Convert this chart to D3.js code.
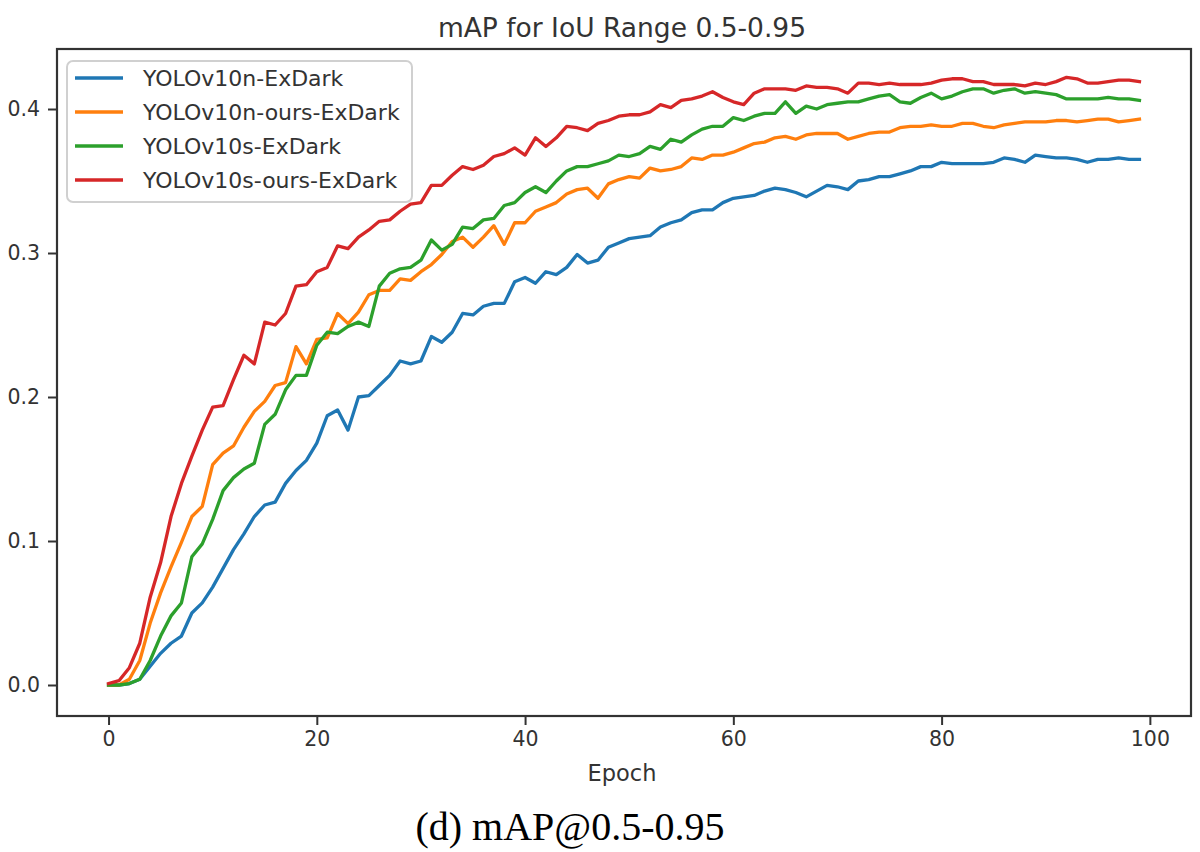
<!DOCTYPE html>
<html>
<head>
<meta charset="utf-8">
<script src="https://cdn.jsdelivr.net/npm/d3@7"></script>
<style>
  html, body { margin: 0; padding: 0; background: #fff; }
  svg { display: block; }
</style>
</head>
<body>
<svg id="chart" width="1200" height="852"></svg>
<script>
const title = "mAP for IoU Range 0.5-0.95";
const xLabel = "Epoch";
const caption = "(d) mAP@0.5-0.95";
const seriesNames = ["YOLOv10n-ExDark", "YOLOv10n-ours-ExDark", "YOLOv10s-ExDark", "YOLOv10s-ours-ExDark"];
const seriesColors = ["#1f77b4", "#ff7f0e", "#2ca02c", "#d62728"];
const xTicks = [0, 20, 40, 60, 80, 100];
const yTicks = [0.0, 0.1, 0.2, 0.3, 0.4];

const yolov10n = [
  0.000, 0.000, 0.001, 0.004, 0.013, 0.022, 0.029, 0.034, 0.050, 0.057,
  0.068, 0.081, 0.094, 0.105, 0.117, 0.125, 0.127, 0.140, 0.149, 0.156,
  0.168, 0.187, 0.191, 0.177, 0.200, 0.201, 0.208, 0.215, 0.225, 0.223,
  0.225, 0.242, 0.238, 0.245, 0.258, 0.257, 0.263, 0.265, 0.265, 0.280,
  0.283, 0.279, 0.287, 0.285, 0.290, 0.299, 0.293, 0.295, 0.304, 0.307,
  0.310, 0.311, 0.312, 0.318, 0.321, 0.323, 0.328, 0.330, 0.330, 0.335,
  0.338, 0.339, 0.340, 0.343, 0.345, 0.344, 0.342, 0.339, 0.343, 0.347,
  0.346, 0.344, 0.350, 0.351, 0.353, 0.353, 0.355, 0.357, 0.360, 0.360,
  0.363, 0.362, 0.362, 0.362, 0.362, 0.363, 0.366, 0.365, 0.363, 0.368,
  0.367, 0.366, 0.366, 0.365, 0.363, 0.365, 0.365, 0.366, 0.365, 0.365
];
const yolov10nOurs = [
  0.000, 0.000, 0.004, 0.017, 0.043, 0.064, 0.082, 0.099, 0.117, 0.124,
  0.153, 0.161, 0.166, 0.179, 0.190, 0.197, 0.208, 0.210, 0.235, 0.223,
  0.240, 0.241, 0.258, 0.251, 0.259, 0.271, 0.274, 0.274, 0.282, 0.281,
  0.287, 0.292, 0.299, 0.308, 0.311, 0.304, 0.311, 0.319, 0.306, 0.321,
  0.321, 0.329, 0.332, 0.335, 0.341, 0.344, 0.345, 0.338, 0.348, 0.351,
  0.353, 0.352, 0.359, 0.357, 0.358, 0.360, 0.366, 0.365, 0.368, 0.368,
  0.370, 0.373, 0.376, 0.377, 0.380, 0.381, 0.379, 0.382, 0.383, 0.383,
  0.383, 0.379, 0.381, 0.383, 0.384, 0.384, 0.387, 0.388, 0.388, 0.389,
  0.388, 0.388, 0.390, 0.390, 0.388, 0.387, 0.389, 0.390, 0.391, 0.391,
  0.391, 0.392, 0.392, 0.391, 0.392, 0.393, 0.393, 0.391, 0.392, 0.393
];
const yolov10s = [
  0.000, 0.000, 0.001, 0.004, 0.017, 0.034, 0.048, 0.057, 0.089, 0.098,
  0.115, 0.135, 0.144, 0.150, 0.154, 0.181, 0.188, 0.205, 0.215, 0.215,
  0.236, 0.245, 0.244, 0.249, 0.252, 0.249, 0.277, 0.286, 0.289, 0.290,
  0.295, 0.309, 0.302, 0.306, 0.318, 0.317, 0.323, 0.324, 0.333, 0.335,
  0.342, 0.346, 0.342, 0.350, 0.357, 0.360, 0.360, 0.362, 0.364, 0.368,
  0.367, 0.369, 0.374, 0.372, 0.379, 0.377, 0.382, 0.386, 0.388, 0.388,
  0.394, 0.392, 0.395, 0.397, 0.397, 0.405, 0.397, 0.402, 0.400, 0.403,
  0.404, 0.405, 0.405, 0.407, 0.409, 0.410, 0.405, 0.404, 0.408, 0.411,
  0.407, 0.409, 0.412, 0.414, 0.414, 0.411, 0.413, 0.414, 0.411, 0.412,
  0.411, 0.410, 0.407, 0.407, 0.407, 0.407, 0.408, 0.407, 0.407, 0.406
];
const yolov10sOurs = [
  0.001, 0.003, 0.012, 0.029, 0.061, 0.085, 0.117, 0.140, 0.159, 0.177,
  0.193, 0.194, 0.212, 0.229, 0.223, 0.252, 0.250, 0.258, 0.277, 0.278,
  0.287, 0.290, 0.305, 0.303, 0.311, 0.316, 0.322, 0.323, 0.329, 0.334,
  0.335, 0.347, 0.347, 0.354, 0.360, 0.358, 0.361, 0.367, 0.369, 0.373,
  0.368, 0.380, 0.374, 0.380, 0.388, 0.387, 0.385, 0.390, 0.392, 0.395,
  0.396, 0.396, 0.398, 0.403, 0.401, 0.406, 0.407, 0.409, 0.412, 0.408,
  0.405, 0.403, 0.411, 0.414, 0.414, 0.414, 0.413, 0.416, 0.415, 0.415,
  0.414, 0.411, 0.418, 0.418, 0.417, 0.418, 0.417, 0.417, 0.417, 0.418,
  0.420, 0.421, 0.421, 0.419, 0.419, 0.417, 0.417, 0.417, 0.416, 0.418,
  0.417, 0.419, 0.422, 0.421, 0.418, 0.418, 0.419, 0.420, 0.420, 0.419
];
const seriesValues = [yolov10n, yolov10nOurs, yolov10s, yolov10sOurs];

const svg = d3.select("#chart");
const frame = { left: 57, right: 1191, top: 49, bottom: 716 };

const x = d3.scaleLinear().domain([-4.95, 103.95]).range([frame.left, frame.right]);
const y = d3.scaleLinear().domain([-0.02153, 0.44167]).range([frame.bottom, frame.top]);

const tickColor = "#333";
const textColor = "#333";
const font = "DejaVu Sans, sans-serif";

svg.append("clipPath").attr("id", "clip").append("rect")
  .attr("x", frame.left).attr("y", frame.top)
  .attr("width", frame.right - frame.left).attr("height", frame.bottom - frame.top);

const line = d3.line().x((d, i) => x(i)).y(d => y(d));
const g = svg.append("g").attr("clip-path", "url(#clip)");
seriesValues.forEach((vals, k) => {
  g.append("path")
    .datum(vals)
    .attr("d", line)
    .attr("fill", "none")
    .attr("stroke", seriesColors[k])
    .attr("stroke-width", 3.3)
    .attr("stroke-linejoin", "round")
    .attr("stroke-linecap", "square");
});

const xAxis = d3.axisBottom(x).tickValues(xTicks).tickSize(9).tickPadding(6).tickFormat(d3.format("d"));
const yAxis = d3.axisLeft(y).tickValues(yTicks).tickSize(9).tickPadding(8).tickFormat(d3.format(".1f"));

const gx = svg.append("g").attr("transform", `translate(0,${frame.bottom})`).call(xAxis);
const gy = svg.append("g").attr("transform", `translate(${frame.left},0)`).call(yAxis);
[gx, gy].forEach(a => {
  a.select(".domain").remove();
  a.selectAll(".tick line").attr("stroke", tickColor).attr("stroke-width", 2);
  a.selectAll(".tick text").attr("fill", textColor).style("font-family", font).style("font-size", "20.5px");
});

svg.append("rect")
  .attr("x", frame.left).attr("y", frame.top)
  .attr("width", frame.right - frame.left).attr("height", frame.bottom - frame.top)
  .attr("fill", "none").attr("stroke", tickColor).attr("stroke-width", 2.2);

svg.append("text")
  .attr("x", (frame.left + frame.right) / 2 - 2).attr("y", 37)
  .attr("text-anchor", "middle")
  .attr("fill", textColor)
  .style("font-family", font).style("font-size", "26.5px")
  .text(title);

svg.append("text")
  .attr("x", (frame.left + frame.right) / 2 - 2).attr("y", 781)
  .attr("text-anchor", "middle")
  .attr("fill", textColor)
  .style("font-family", font).style("font-size", "22.5px")
  .text(xLabel);

const legend = svg.append("g");
legend.append("rect")
  .attr("x", 67).attr("y", 61).attr("width", 345).attr("height", 141)
  .attr("rx", 6).attr("ry", 6)
  .attr("fill", "#fff").attr("fill-opacity", 0.8)
  .attr("stroke", "#d0d0d0").attr("stroke-width", 2);
const rowY = d3.scaleLinear().domain([0, 3]).range([78, 180]);
seriesNames.forEach((name, k) => {
  const ry = rowY(k);
  legend.append("line")
    .attr("x1", 75).attr("x2", 123).attr("y1", ry).attr("y2", ry)
    .attr("stroke", seriesColors[k]).attr("stroke-width", 3.3);
  legend.append("text")
    .attr("x", 143).attr("y", ry + 8)
    .attr("fill", textColor)
    .style("font-family", font).style("font-size", "22px")
    .text(name);
});

svg.append("text")
  .attr("x", 570).attr("y", 840)
  .attr("text-anchor", "middle")
  .attr("fill", "#000")
  .style("font-family", "Liberation Serif, Times New Roman, serif").style("font-size", "40px")
  .text(caption);
</script>
</body>
</html>
